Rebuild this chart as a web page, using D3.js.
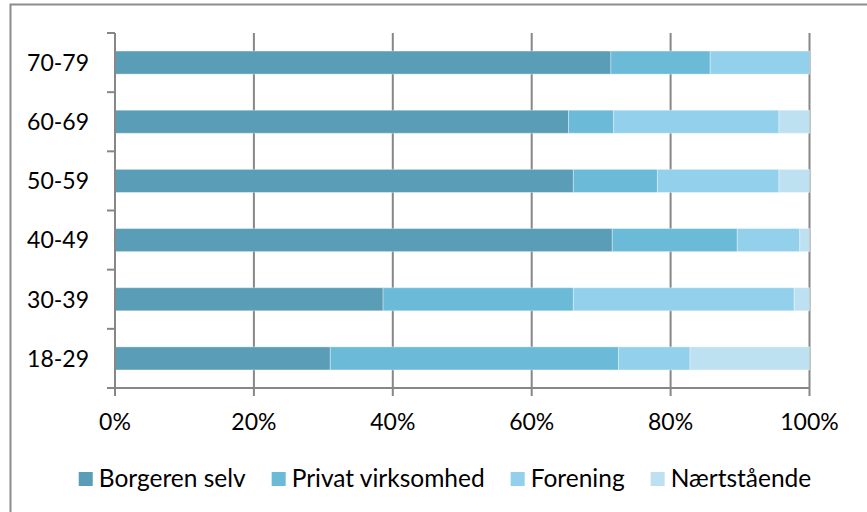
<!DOCTYPE html>
<html>
<head>
<meta charset="utf-8">
<script src="https://cdn.jsdelivr.net/npm/d3@7"></script>
<style>
  html, body { margin: 0; padding: 0; background: #fff; }
  svg { display: block; }
  text { font-family: Lato, "Open Sans", sans-serif; fill: #000; }
</style>
</head>
<body>
<svg id="chart" width="867" height="512"></svg>
<script>
const categories = ["70-79", "60-69", "50-59", "40-49", "30-39", "18-29"];
const seriesNames = ["Borgeren selv", "Privat virksomhed", "Forening", "Nærtstående"];
const borgerenSelv = [71.4, 65.3, 66.0, 71.6, 38.6, 31.0];
const privatVirksomhed = [14.3, 6.5, 12.1, 18.0, 27.4, 41.5];
const forening = [14.3, 23.8, 17.5, 9.0, 31.8, 10.3];
const naertstaaende = [0.0, 4.4, 4.4, 1.4, 2.2, 17.2];
const tickValues = [0, 20, 40, 60, 80, 100];
const tickLabels = ["0%", "20%", "40%", "60%", "80%", "100%"];
const colors = ["#5a9db6", "#6bbad8", "#93d0eb", "#bde1f0"];

const seriesValues = [borgerenSelv, privatVirksomhed, forening, naertstaaende];
const rows = categories.map((c, i) => {
  const r = { cat: c };
  seriesNames.forEach((s, j) => r[s] = seriesValues[j][i]);
  return r;
});
const stacked = d3.stack().keys(seriesNames)(rows);

const svg = d3.select("#chart");
const plotLeft = 115, plotRight = 809.5, plotTop = 33, plotBottom = 388;

// outer frame
svg.append("rect").attr("x", 10.5).attr("y", 4.5).attr("width", 880).attr("height", 540)
  .attr("fill", "none").attr("stroke", "#8c8c8c").attr("stroke-width", 2);

const x = d3.scaleLinear().domain([0, 100]).range([plotLeft, plotRight]);
const y = d3.scaleBand().domain(categories).range([plotTop, plotBottom]).paddingInner(0.61).paddingOuter(0.305);

// gridlines
svg.append("g").selectAll("line").data(tickValues.slice(1)).join("line")
  .attr("x1", d => x(d)).attr("x2", d => x(d))
  .attr("y1", plotTop).attr("y2", plotBottom)
  .attr("stroke", "#878787").attr("stroke-width", 2);

// bars
svg.append("g").selectAll("g").data(stacked).join("g")
  .attr("fill", (d, i) => colors[i])
  .selectAll("rect").data(d => d).join("rect")
  .attr("x", d => x(d[0]))
  .attr("width", d => Math.max(0, x(d[1]) - x(d[0])))
  .attr("y", d => y(d.data.cat))
  .attr("height", y.bandwidth())
  .attr("stroke", "rgba(255,255,255,0.35)").attr("stroke-width", 1);

// y axis
const yAxis = svg.append("g");
yAxis.append("line").attr("x1", plotLeft).attr("x2", plotLeft).attr("y1", plotTop).attr("y2", plotBottom)
  .attr("stroke", "#878787").attr("stroke-width", 2);
const step = y.step();
const yTicks = d3.range(categories.length + 1).map(i => plotTop + i * step);
yAxis.selectAll("line.tick").data(yTicks).join("line").attr("class", "tick")
  .attr("x1", plotLeft - 8).attr("x2", plotLeft).attr("y1", d => d).attr("y2", d => d)
  .attr("stroke", "#878787").attr("stroke-width", 2);
yAxis.selectAll("text").data(categories).join("text")
  .attr("x", 89).attr("y", d => y(d) + y.bandwidth() / 2)
  .attr("dy", "0.36em").attr("text-anchor", "end")
  .attr("font-size", 23).text(d => d);

// x axis
const xAxis = svg.append("g");
xAxis.append("line").attr("x1", plotLeft).attr("x2", plotRight).attr("y1", plotBottom).attr("y2", plotBottom)
  .attr("stroke", "#878787").attr("stroke-width", 2);
xAxis.selectAll("line.tick").data(tickValues).join("line").attr("class", "tick")
  .attr("x1", d => x(d)).attr("x2", d => x(d)).attr("y1", plotBottom).attr("y2", plotBottom + 8)
  .attr("stroke", "#878787").attr("stroke-width", 2);
xAxis.selectAll("text").data(tickValues).join("text")
  .attr("x", d => x(d)).attr("y", 430).attr("text-anchor", "middle")
  .attr("font-size", 23).text((d, i) => tickLabels[i]);

// legend
const legend = svg.append("g");
const items = legend.selectAll("g").data(seriesNames).join("g");
items.append("rect").attr("width", 14).attr("height", 14).attr("y", 472)
  .attr("fill", (d, i) => colors[i]);
items.append("text").attr("x", 20).attr("y", 487).attr("font-size", 24.5).text(d => d);
const widths = [];
items.each(function() { widths.push(d3.select(this).select("text").node().getComputedTextLength() + 20); });
const gap = 26;
const total = d3.sum(widths) + gap * (widths.length - 1);
let cx = 445 - total / 2;
items.each(function(d, i) {
  d3.select(this).attr("transform", `translate(${cx},0)`);
  cx += widths[i] + gap;
});
</script>
</body>
</html>
